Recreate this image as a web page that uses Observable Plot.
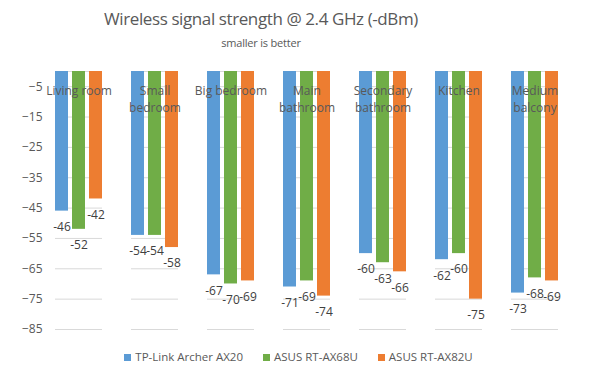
<!DOCTYPE html>
<html><head><meta charset="utf-8">
<script src="https://cdn.jsdelivr.net/npm/d3@7"></script>
<script src="https://cdn.jsdelivr.net/npm/@observablehq/plot@0.6"></script>
<style>
body{margin:0;background:#fff;}
#wrap{position:relative;width:589px;height:377px;font-family:"Open Sans",sans-serif;color:#595959;overflow:hidden;}
#title{position:absolute;left:0;width:522px;top:7px;text-align:center;font-size:17px;letter-spacing:-0.4px;line-height:24px;white-space:nowrap;}
#subtitle{position:absolute;left:0;width:522px;top:35px;text-align:center;font-size:11px;letter-spacing:-0.2px;line-height:15px;white-space:nowrap;}
#chart{position:absolute;left:0;top:50px;}
#legend{position:absolute;left:4px;width:589px;top:349px;display:flex;justify-content:center;font-size:11.5px;line-height:16px;}
.item{display:flex;align-items:center;margin:0 10px;}
.sw{width:7px;height:7px;margin-right:4px;}
</style></head><body>
<div id="wrap">
<div id="title">Wireless signal strength @ 2.4 GHz (-dBm)</div>
<div id="subtitle">smaller is better</div>
<div id="chart"></div>
<div id="legend"></div>
</div>
<script>
const categories = ["Living room", "Small bedroom", "Big bedroom", "Main bathroom", "Secondary bathroom", "Kitchen", "Medium balcony"];
const categoryLabels = ["Living room", "Small\nbedroom", "Big bedroom", "Main\nbathroom", "Secondary\nbathroom", "Kitchen", "Medium\nbalcony"];
const series = ["TP-Link Archer AX20", "ASUS RT-AX68U", "ASUS RT-AX82U"];
const tplinkAX20 = [-46, -54, -67, -71, -60, -62, -73];
const asusAX68U = [-52, -54, -70, -69, -63, -60, -68];
const asusAX82U = [-42, -58, -69, -74, -66, -75, -69];
const yTicks = [-5, -15, -25, -35, -45, -55, -65, -75, -85];
const colors = ["#5B9BD5", "#70AD47", "#ED7D31"];

const seriesValues = [tplinkAX20, asusAX68U, asusAX82U];
const rows = categories.flatMap((c, i) => series.map((s, j) => ({category: c, series: s, value: seriesValues[j][i]})));

const chart = Plot.plot({
  width: 589, height: 290,
  marginTop: 21, marginBottom: 11, marginLeft: 38, marginRight: 15,
  style: {fontFamily: "'Open Sans', sans-serif", fontSize: "12px", color: "#595959", background: "white"},
  fx: {domain: categories, paddingInner: 0.386, paddingOuter: 0.193, axis: null},
  x: {domain: series, paddingInner: 0.24, paddingOuter: 0, axis: null},
  y: {domain: [-85, 0], label: null},
  color: {domain: series, range: colors},
  marks: [
    Plot.gridY(yTicks, {stroke: "#d9d9d9", strokeOpacity: 1}),
    Plot.ruleY([0], {stroke: "#d9d9d9"}),
    Plot.axisY(yTicks, {tickSize: 0, tickPadding: 13, fill: "#595959", fontSize: 12, label: null}),
    Plot.barY(rows, {fx: "category", x: "series", y: "value", fill: "series"}),
    Plot.text(rows, {fx: "category", x: "series", y: "value", text: d => String(d.value), dy: 16, fill: "#404040", fontSize: 12}),
    Plot.text(categories, {fx: d => d, text: (d, i) => categoryLabels[i], frameAnchor: "top", dy: 12, lineHeight: 1.4, fill: "#595959", fontSize: 12})
  ]
});
document.getElementById("chart").appendChild(chart);

const legend = document.getElementById("legend");
series.forEach((s, i) => {
  const it = document.createElement("div");
  it.className = "item";
  const sw = document.createElement("span");
  sw.className = "sw";
  sw.style.background = colors[i];
  const t = document.createElement("span");
  t.textContent = s;
  it.appendChild(sw); it.appendChild(t);
  legend.appendChild(it);
});
</script>
</body></html>
